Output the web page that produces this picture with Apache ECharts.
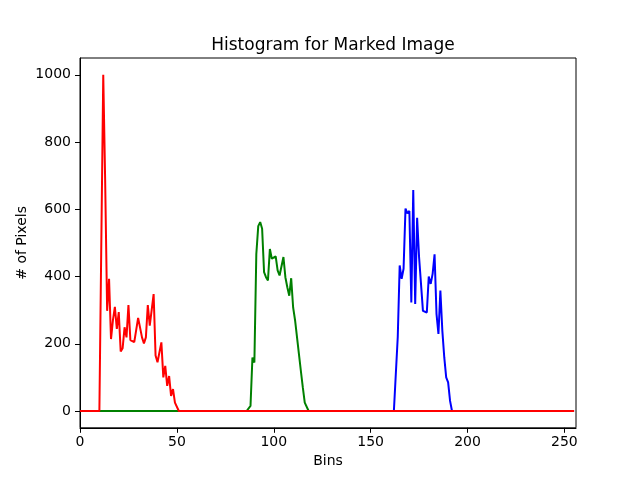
<!DOCTYPE html>
<html>
<head>
<meta charset="utf-8">
<script src="https://cdn.jsdelivr.net/npm/echarts@6/dist/echarts.min.js"></script>
<style>html,body{margin:0;padding:0;background:#fff;}#c{width:640px;height:480px;}</style>
</head>
<body>
<div id="c"></div>
<script>
// Data (bins 0..255; values outside segments are 0)
const binCount = 256;
const redStart = 10;
const redValues = [0, 500, 1000, 680, 298, 393, 214, 270, 310, 244, 294, 177, 187, 249, 219, 315, 211, 210, 205, 205, 277, 278, 219, 201, 219, 315, 254, 250, 348, 165, 145, 150, 204, 100, 134, 75, 104, 45, 65, 25, 22, 0];
const greenStart = 87;
const greenValues = [0, 15, 159, 144, 467, 550, 562, 542, 413, 398, 388, 482, 453, 448, 460, 418, 403, 400, 458, 398, 368, 343, 395, 308, 270, 271, 169, 119, 70, 25, 20, 0];
const blueStart = 163;
const blueValues = [0, 220, 433, 393, 423, 602, 588, 595, 323, 657, 318, 575, 458, 378, 298, 293, 293, 400, 378, 408, 466, 289, 229, 358, 240, 160, 100, 85, 30, 0];
const xTicks = [0, 50, 100, 150, 200, 250];
const yTicks = [0, 200, 400, 600, 800, 1000];

function fullSeries(start, seg) {
  const out = [];
  for (let i = 0; i < binCount; i++) {
    const j = i - start;
    out.push([i, (j >= 0 && j < seg.length) ? seg[j] : 0]);
  }
  return out;
}

const font = 'DejaVu Sans';
const chart = echarts.init(document.getElementById('c'), null, {renderer: 'canvas'});
chart.setOption({
  animation: false,
  backgroundColor: '#ffffff',
  title: {
    text: 'Histogram for Marked Image',
    left: 328, top: 32, textAlign: 'center',
    textStyle: {fontFamily: font, fontSize: 17, fontWeight: 'normal', color: '#000'}
  },
  grid: {
    left: 80, right: 64, top: 58, bottom: 52.19,
    show: true, borderColor: '#000', borderWidth: 1, backgroundColor: 'transparent',
    outerBoundsMode: 'none'
  },
  xAxis: {
    type: 'value', min: 0, max: 256,
    name: 'Bins', nameLocation: 'middle', nameGap: 27, nameMoveOverlap: false,
    nameTextStyle: {fontFamily: font, fontSize: 14, color: '#000'},
    axisLine: {show: true, onZero: false, lineStyle: {color: '#000', width: 1}},
    axisTick: {show: true, length: 5, lineStyle: {color: '#000'}, customValues: xTicks},
    axisLabel: {fontFamily: font, fontSize: 14, color: '#000', margin: 8, customValues: xTicks,
                formatter: function (v) { return String(v); }},
    splitLine: {show: false}
  },
  yAxis: {
    type: 'value', min: -50, max: 1050,
    name: '# of Pixels', nameLocation: 'middle', nameGap: 51, nameMoveOverlap: false,
    nameTextStyle: {fontFamily: font, fontSize: 14, color: '#000'},
    axisLine: {show: true, onZero: false, lineStyle: {color: '#000', width: 1}},
    axisTick: {show: true, length: 5, lineStyle: {color: '#000'}, customValues: yTicks},
    axisLabel: {fontFamily: font, fontSize: 14, color: '#000', margin: 9, customValues: yTicks,
                formatter: function (v) { return String(v); }},
    splitLine: {show: false}
  },
  series: [
    {type: 'line', data: fullSeries(blueStart, blueValues), showSymbol: false, symbol: 'none',
     lineStyle: {color: '#0000ff', width: 2}, itemStyle: {color: '#0000ff'}, z: 2},
    {type: 'line', data: fullSeries(greenStart, greenValues), showSymbol: false, symbol: 'none',
     lineStyle: {color: '#008000', width: 2}, itemStyle: {color: '#008000'}, z: 3},
    {type: 'line', data: fullSeries(redStart, redValues), showSymbol: false, symbol: 'none',
     lineStyle: {color: '#ff0000', width: 2}, itemStyle: {color: '#ff0000'}, z: 4}
  ]
});
</script>
</body>
</html>
